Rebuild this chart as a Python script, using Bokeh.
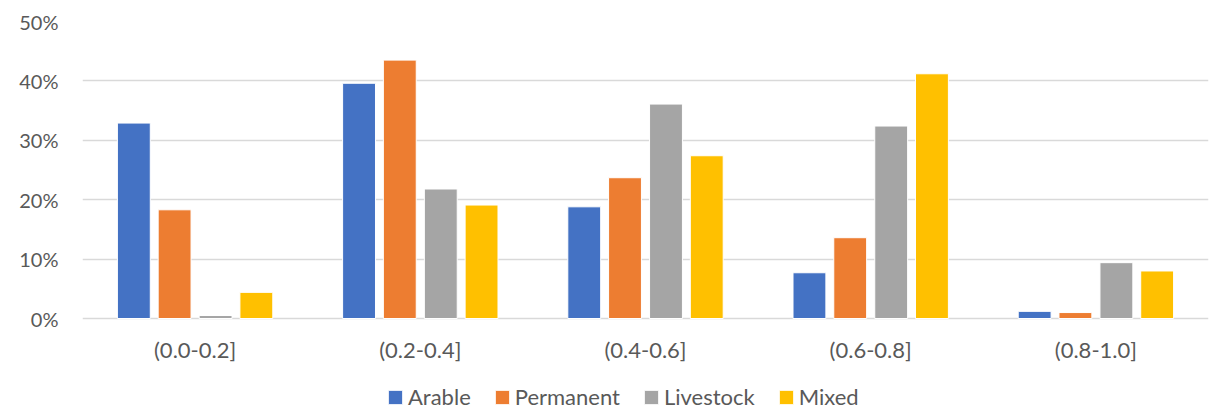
from bokeh.plotting import figure
from bokeh.models import (ColumnDataSource, FactorRange, Range1d, FixedTicker,
                          NumeralTickFormatter, Legend, LegendItem)
from bokeh.core.properties import value
from bokeh.transform import dodge
from bokeh.embed import file_html
from bokeh.resources import INLINE

# Share of farms per index interval, by farm type
categories = ["(0.0-0.2]", "(0.2-0.4]", "(0.4-0.6]", "(0.6-0.8]", "(0.8-1.0]"]
arable = [0.329, 0.396, 0.188, 0.077, 0.012]
permanent = [0.183, 0.435, 0.237, 0.136, 0.010]
livestock = [0.005, 0.218, 0.361, 0.324, 0.094]
mixed = [0.044, 0.191, 0.274, 0.412, 0.080]
series_names = ["Arable", "Permanent", "Livestock", "Mixed"]
y_ticks = [0.0, 0.1, 0.2, 0.3, 0.4, 0.5]

colors = ["#4472C4", "#ED7D31", "#A5A5A5", "#FFC000"]
text_color = "#595959"
font = "Lato"

W, H = 1210, 411
top_pad, left_pad, right_pad = 21, 82, 2
px_per_unit = 594.0                     # 10 % step = 59.4 px
frame_h = H - top_pad
y_end = 0.5
y_start = y_end - frame_h / px_per_unit  # space under the bars holds labels and legend
cat_label_y = -31.0 / px_per_unit

source = ColumnDataSource(data=dict(cat=categories, Arable=arable, Permanent=permanent,
                                    Livestock=livestock, Mixed=mixed,
                                    label_y=[cat_label_y] * len(categories)))

p = figure(x_range=FactorRange(*categories, range_padding=0), y_range=Range1d(y_start, y_end),
           width=W, height=H, output_backend="svg", toolbar_location=None,
           min_border_left=left_pad, min_border_right=right_pad, min_border_top=top_pad,
           min_border_bottom=0)
p.outline_line_color = None
p.background_fill_color = "white"
p.border_fill_color = "white"

offsets = [-0.272, -0.091, 0.091, 0.272]
renderers = []
for name, col, off in zip(series_names, colors, offsets):
    r = p.vbar(x=dodge("cat", off, range=p.x_range), top=name, width=0.146, source=source,
               fill_color=col, line_color="white", line_width=1)
    renderers.append(r)

# category labels under each group
p.text(x="cat", y="label_y", text="cat", source=source, text_align="center",
       text_baseline="middle", text_font=value(font), text_font_size="22px",
       text_color=text_color)

# y axis: percent labels, no line or ticks
p.yaxis.ticker = FixedTicker(ticks=y_ticks)
p.yaxis.formatter = NumeralTickFormatter(format="0%")
p.yaxis.axis_line_color = None
p.yaxis.major_tick_line_color = None
p.yaxis.minor_tick_line_color = None
p.yaxis.major_label_text_font = font
p.yaxis.major_label_text_font_size = "20px"
p.yaxis.major_label_text_color = text_color
p.yaxis.major_label_standoff = 18

p.xaxis.visible = False

p.xgrid.grid_line_color = None
p.ygrid.grid_line_color = "#D9D9D9"
p.ygrid.grid_line_width = 1.3
p.ygrid.ticker = FixedTicker(ticks=y_ticks)

legend = Legend(items=[LegendItem(label=n, renderers=[r]) for n, r in zip(series_names, renderers)],
                orientation="horizontal", location=(304, 1),
                glyph_width=18, glyph_height=18, label_standoff=4, spacing=22,
                padding=0, margin=0, border_line_color=None, background_fill_alpha=0,
                label_text_font=font, label_text_font_size="22px", label_text_color=text_color)
p.add_layout(legend, "center")

open("out.html", "w").write(file_html(p, INLINE))
